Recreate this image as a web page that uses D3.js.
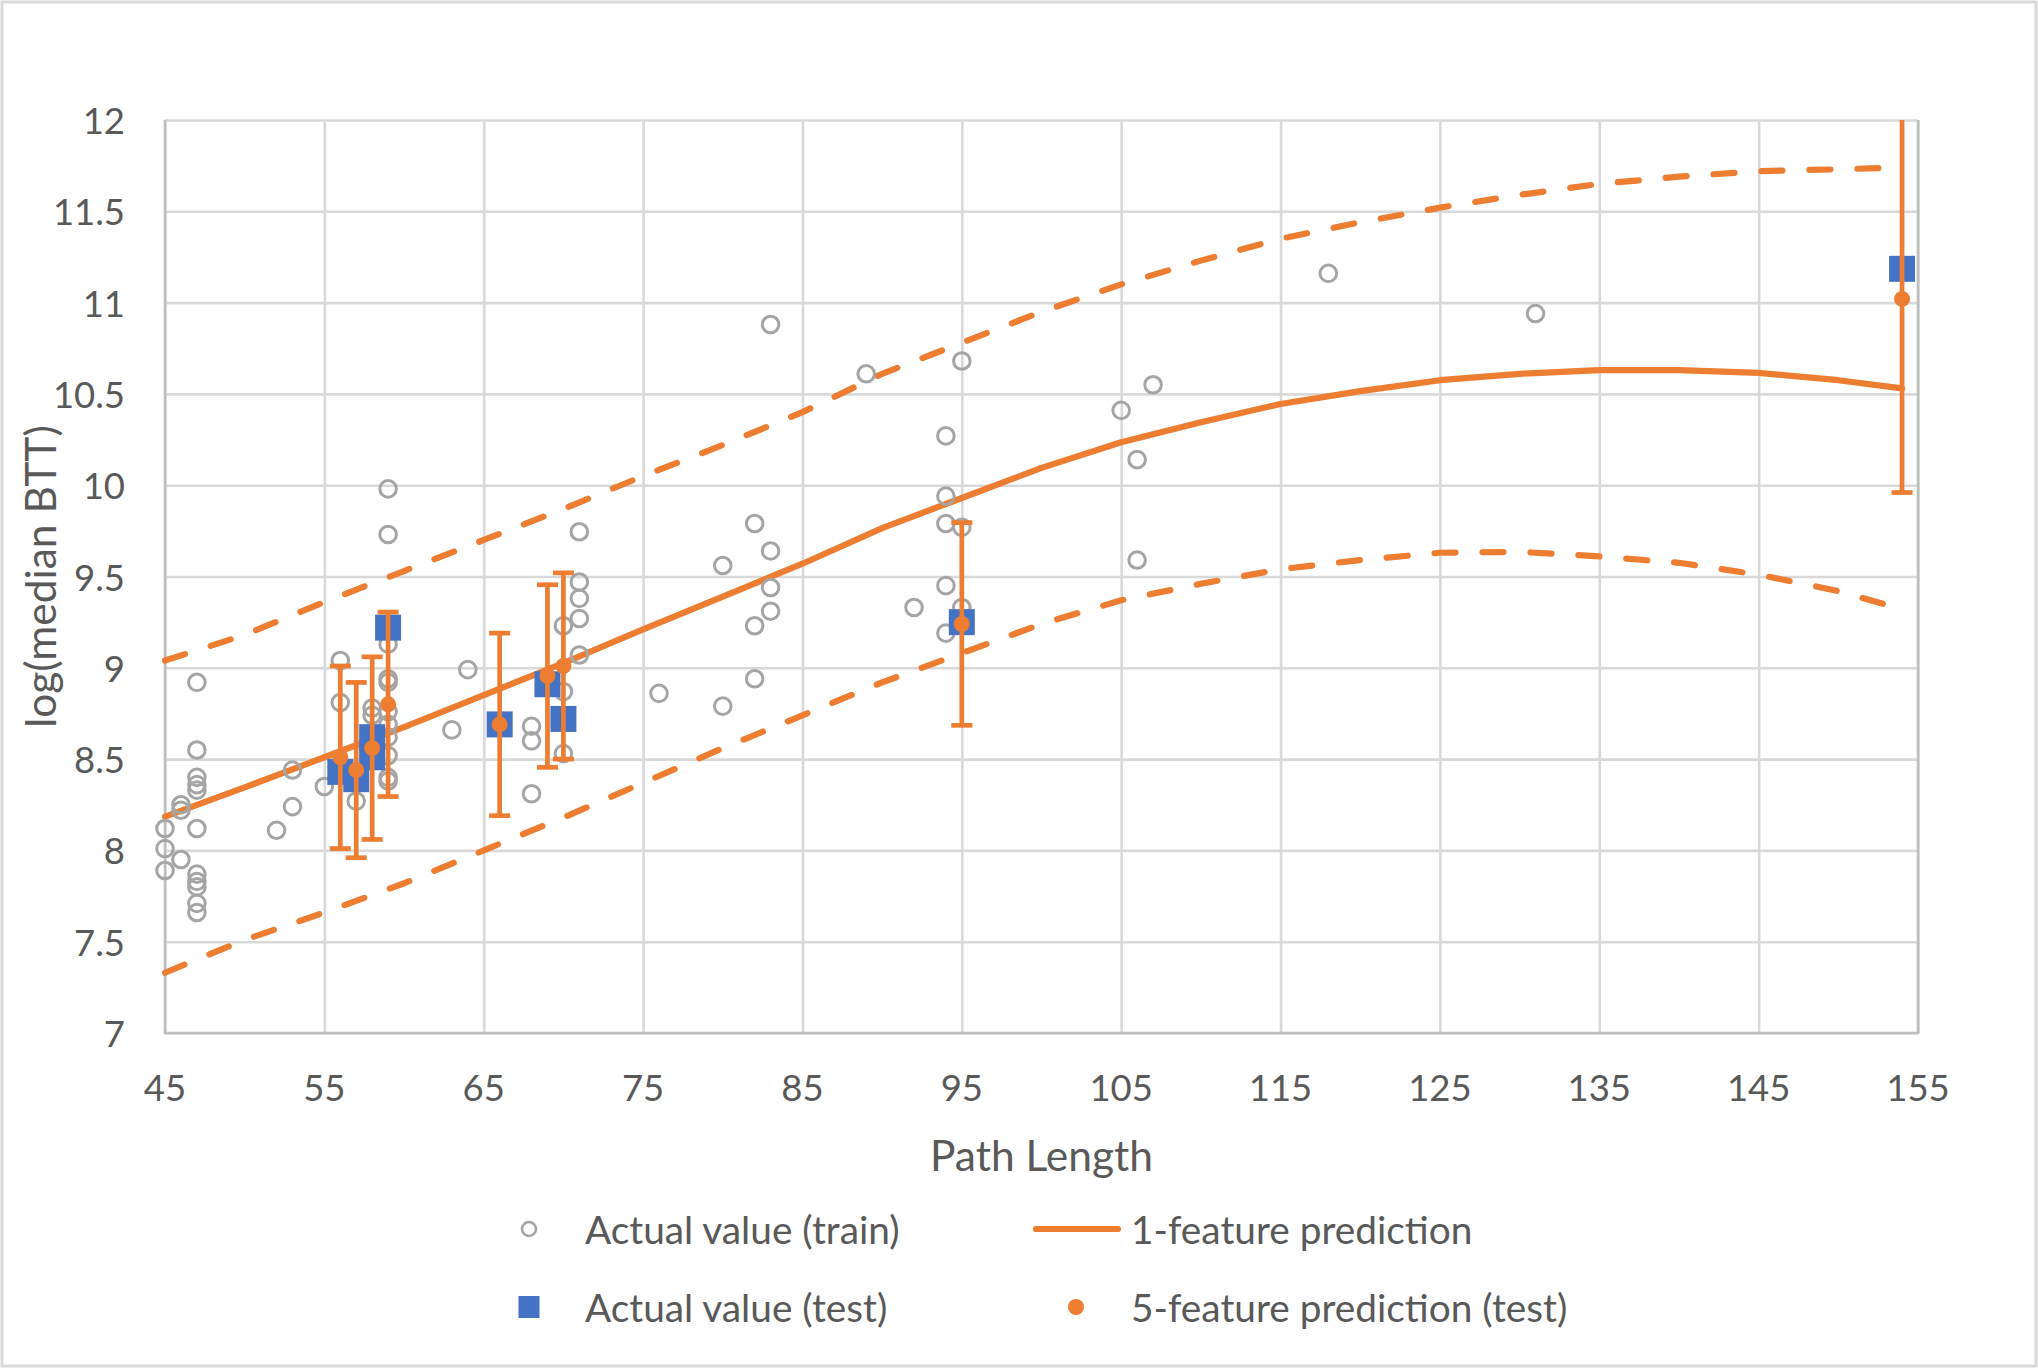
<!DOCTYPE html>
<html>
<head>
<meta charset="utf-8">
<script src="https://cdn.jsdelivr.net/npm/d3@7/dist/d3.min.js"></script>
<style>
  html, body { margin: 0; padding: 0; background: #ffffff; }
  svg { display: block; }
  text { font-family: Lato, "Open Sans", sans-serif; fill: #595959; }
</style>
</head>
<body>
<svg id="chart" width="2038" height="1368"></svg>
<script>
// ---------------- DATA ----------------
const xTicks = [45, 55, 65, 75, 85, 95, 105, 115, 125, 135, 145, 155];
const xTickLabels = ["45", "55", "65", "75", "85", "95", "105", "115", "125", "135", "145", "155"];
const yTicks = [7, 7.5, 8, 8.5, 9, 9.5, 10, 10.5, 11, 11.5, 12];
const yTickLabels = ["7", "7.5", "8", "8.5", "9", "9.5", "10", "10.5", "11", "11.5", "12"];

// Actual value (train)
const trainX = [45, 45, 45,
  46, 46, 46,
  47, 47, 47, 47, 47, 47, 47, 47, 47, 47, 47,
  52, 53, 53, 55, 56, 56, 57, 58, 58,
  59, 59, 59, 59, 59, 59, 59, 59, 59, 59, 59,
  63, 64, 68, 68, 68, 70, 70, 70,
  71, 71, 71, 71, 71, 76, 80, 80, 82, 82, 82,
  83, 83, 83, 83, 89, 92, 94, 94, 94, 94, 94,
  95, 95, 95, 105, 106, 106, 107, 118, 131];
const trainY = [8.12, 8.01, 7.89,
  8.25, 8.22, 7.95,
  8.92, 8.55, 8.40, 8.36, 8.33, 8.12, 7.87, 7.83, 7.80, 7.71, 7.66,
  8.11, 8.44, 8.24, 8.35, 9.04, 8.81, 8.27, 8.78, 8.74,
  9.98, 9.73, 9.13, 8.94, 8.92, 8.76, 8.69, 8.62, 8.52, 8.40, 8.38,
  8.66, 8.99, 8.68, 8.60, 8.31, 9.23, 8.87, 8.53,
  9.745, 9.47, 9.38, 9.27, 9.07, 8.86, 9.56, 8.79, 9.79, 9.23, 8.94,
  10.88, 9.64, 9.44, 9.31, 10.61, 9.33, 10.27, 9.94, 9.79, 9.45, 9.19,
  10.68, 9.77, 9.33, 10.41, 10.14, 9.59, 10.55, 11.16, 10.94];

// Actual value (test)
const testX = [56, 57, 58, 58, 59, 66, 69, 70, 95, 154];
const testY = [8.43, 8.39, 8.62, 8.51, 9.22, 8.69, 8.91, 8.72, 9.25, 11.185];

// 5-feature prediction (test) with error bar (+/-)
const predX = [56, 57, 58, 59, 66, 69, 70, 95, 154];
const predY = [8.51, 8.44, 8.56, 8.80, 8.69, 8.955, 9.01, 9.24, 11.02];
const predErr = [0.50, 0.48, 0.50, 0.505, 0.50, 0.50, 0.51, 0.555, 1.06];

// 1-feature prediction with upper / lower band
const lineX = [45, 50, 55, 60, 65, 70, 75, 80, 85, 90, 95, 100, 105, 110, 115, 120, 125, 130, 135, 140, 145, 150, 154];
const lineY = [8.185, 8.345, 8.51, 8.675, 8.85, 9.025, 9.21, 9.39, 9.57, 9.765, 9.93, 10.095, 10.235, 10.345, 10.445, 10.515, 10.575, 10.61, 10.63, 10.63, 10.615, 10.575, 10.53];
const upperY = [9.04, 9.18, 9.36, 9.53, 9.70, 9.87, 10.05, 10.22, 10.40, 10.61, 10.78, 10.95, 11.10, 11.23, 11.35, 11.44, 11.52, 11.59, 11.65, 11.69, 11.72, 11.73, 11.74];
const lowerY = [7.33, 7.51, 7.66, 7.82, 8.00, 8.18, 8.37, 8.56, 8.74, 8.92, 9.08, 9.24, 9.37, 9.46, 9.54, 9.59, 9.63, 9.635, 9.61, 9.575, 9.51, 9.42, 9.32];

const legendLabels = ["Actual value (train)", "1-feature prediction", "Actual value (test)", "5-feature prediction (test)"];
const xTitle = "Path Length";
const yTitle = "log(median BTT)";

// ---------------- STYLE ----------------
const ORANGE = "#ED7D31", BLUE = "#4472C4", GRAY = "#A5A5A5";
const GRID = "#D9D9D9", AXIS = "#BFBFBF";

const W = 2038, H = 1368;
const plot = { left: 165, right: 1918, top: 120, bottom: 1033 };

const svg = d3.select("#chart");
svg.append("rect").attr("x", 0).attr("y", 0).attr("width", W).attr("height", H).attr("fill", "#fff");
svg.append("rect").attr("x", 2).attr("y", 2).attr("width", W - 4).attr("height", H - 4)
  .attr("fill", "none").attr("stroke", GRID).attr("stroke-width", 3);

const x = d3.scaleLinear().domain([45, 155]).range([plot.left, plot.right]);
const y = d3.scaleLinear().domain([7, 12]).range([plot.bottom, plot.top]);

svg.append("clipPath").attr("id", "plotclip").append("rect")
  .attr("x", plot.left - 20).attr("y", plot.top).attr("width", plot.right - plot.left + 40).attr("height", plot.bottom - plot.top);

// gridlines
const gx = svg.append("g").attr("transform", `translate(0,${plot.bottom})`)
  .call(d3.axisBottom(x).tickValues(xTicks).tickSize(-(plot.bottom - plot.top)).tickFormat(""));
gx.select(".domain").remove();
gx.selectAll(".tick line").attr("stroke", GRID).attr("stroke-width", 2.6);

const gy = svg.append("g").attr("transform", `translate(${plot.left},0)`)
  .call(d3.axisLeft(y).tickValues(yTicks).tickSize(-(plot.right - plot.left)).tickFormat(""));
gy.select(".domain").remove();
gy.selectAll(".tick line").attr("stroke", GRID).attr("stroke-width", 2.6);

// axis lines
svg.append("line").attr("x1", x(45)).attr("x2", x(45)).attr("y1", y(12)).attr("y2", y(7))
  .attr("stroke", AXIS).attr("stroke-width", 2.6);
svg.append("line").attr("x1", x(155)).attr("x2", x(155)).attr("y1", y(12)).attr("y2", y(7))
  .attr("stroke", AXIS).attr("stroke-width", 2.6);
svg.append("line").attr("x1", x(45) - 1.3).attr("x2", x(155) + 1.3).attr("y1", y(7)).attr("y2", y(7))
  .attr("stroke", AXIS).attr("stroke-width", 2.6);

// tick labels
svg.append("g").selectAll("text").data(xTicks).join("text")
  .attr("x", d => x(d)).attr("y", plot.bottom + 54)
  .attr("text-anchor", "middle").attr("dominant-baseline", "central")
  .attr("font-size", 36.5).text((d, i) => xTickLabels[i]);
svg.append("g").selectAll("text").data(yTicks).join("text")
  .attr("x", plot.left - 40).attr("y", d => y(d))
  .attr("text-anchor", "end").attr("dominant-baseline", "central")
  .attr("font-size", 36.5).text((d, i) => yTickLabels[i]);

// axis titles
svg.append("text").attr("x", (plot.left + plot.right) / 2).attr("y", 1154)
  .attr("text-anchor", "middle").attr("dominant-baseline", "central")
  .attr("font-size", 42.5).text(xTitle);
svg.append("text").attr("transform", `translate(39,${(plot.top + plot.bottom) / 2}) rotate(-90)`)
  .attr("text-anchor", "middle").attr("dominant-baseline", "central")
  .attr("font-size", 42.5).text(yTitle);

// lines
const g = svg.append("g").attr("clip-path", "url(#plotclip)");
const lineGen = arr => d3.line().x((d, i) => x(lineX[i])).y((d, i) => y(arr[i]))(arr);

g.append("path").attr("d", lineGen(upperY)).attr("fill", "none").attr("stroke", ORANGE)
  .attr("stroke-width", 6.2).attr("stroke-linecap", "round").attr("stroke-dasharray", "21,27");
g.append("path").attr("d", lineGen(lowerY)).attr("fill", "none").attr("stroke", ORANGE)
  .attr("stroke-width", 6.2).attr("stroke-linecap", "round").attr("stroke-dasharray", "21,27");
g.append("path").attr("d", lineGen(lineY)).attr("fill", "none").attr("stroke", ORANGE)
  .attr("stroke-width", 6.2).attr("stroke-linejoin", "round").attr("stroke-linecap", "round");

// train circles
g.append("g").selectAll("circle").data(trainX).join("circle")
  .attr("cx", d => x(d)).attr("cy", (d, i) => y(trainY[i])).attr("r", 8.3)
  .attr("fill", "none").attr("stroke", GRAY).attr("stroke-width", 3);

// test squares
const S = 26;
g.append("g").selectAll("rect").data(testX).join("rect")
  .attr("x", d => x(d) - S / 2).attr("y", (d, i) => y(testY[i]) - S / 2)
  .attr("width", S).attr("height", S).attr("fill", BLUE);

// error bars
const eb = g.append("g").attr("stroke", ORANGE).attr("stroke-width", 4.7);
eb.selectAll("line.v").data(predX).join("line").attr("class", "v")
  .attr("x1", d => x(d)).attr("x2", d => x(d))
  .attr("y1", (d, i) => y(predY[i] + predErr[i])).attr("y2", (d, i) => y(predY[i] - predErr[i]));
eb.selectAll("line.t").data(predX).join("line").attr("class", "t")
  .attr("x1", d => x(d) - 10.5).attr("x2", d => x(d) + 10.5)
  .attr("y1", (d, i) => y(predY[i] + predErr[i])).attr("y2", (d, i) => y(predY[i] + predErr[i]));
eb.selectAll("line.b").data(predX).join("line").attr("class", "b")
  .attr("x1", d => x(d) - 10.5).attr("x2", d => x(d) + 10.5)
  .attr("y1", (d, i) => y(predY[i] - predErr[i])).attr("y2", (d, i) => y(predY[i] - predErr[i]));

// prediction dots
g.append("g").selectAll("circle").data(predX).join("circle")
  .attr("cx", d => x(d)).attr("cy", (d, i) => y(predY[i])).attr("r", 8).attr("fill", ORANGE);

// legend
const lg = svg.append("g");
lg.append("circle").attr("cx", 529).attr("cy", 1229).attr("r", 7)
  .attr("fill", "none").attr("stroke", GRAY).attr("stroke-width", 2.6);
lg.append("line").attr("x1", 1036).attr("x2", 1118).attr("y1", 1229).attr("y2", 1229)
  .attr("stroke", ORANGE).attr("stroke-width", 6.2).attr("stroke-linecap", "round");
lg.append("rect").attr("x", 529 - 10.5).attr("y", 1307 - 11).attr("width", 21).attr("height", 22).attr("fill", BLUE);
lg.append("circle").attr("cx", 1076).attr("cy", 1307).attr("r", 8).attr("fill", ORANGE);
const legPos = [[585, 1229], [1131, 1229], [585, 1307], [1131, 1307]];
lg.selectAll("text").data(legendLabels).join("text")
  .attr("x", (d, i) => legPos[i][0]).attr("y", (d, i) => legPos[i][1])
  .attr("dominant-baseline", "central").attr("font-size", 38.8).text(d => d);
</script>
</body>
</html>
